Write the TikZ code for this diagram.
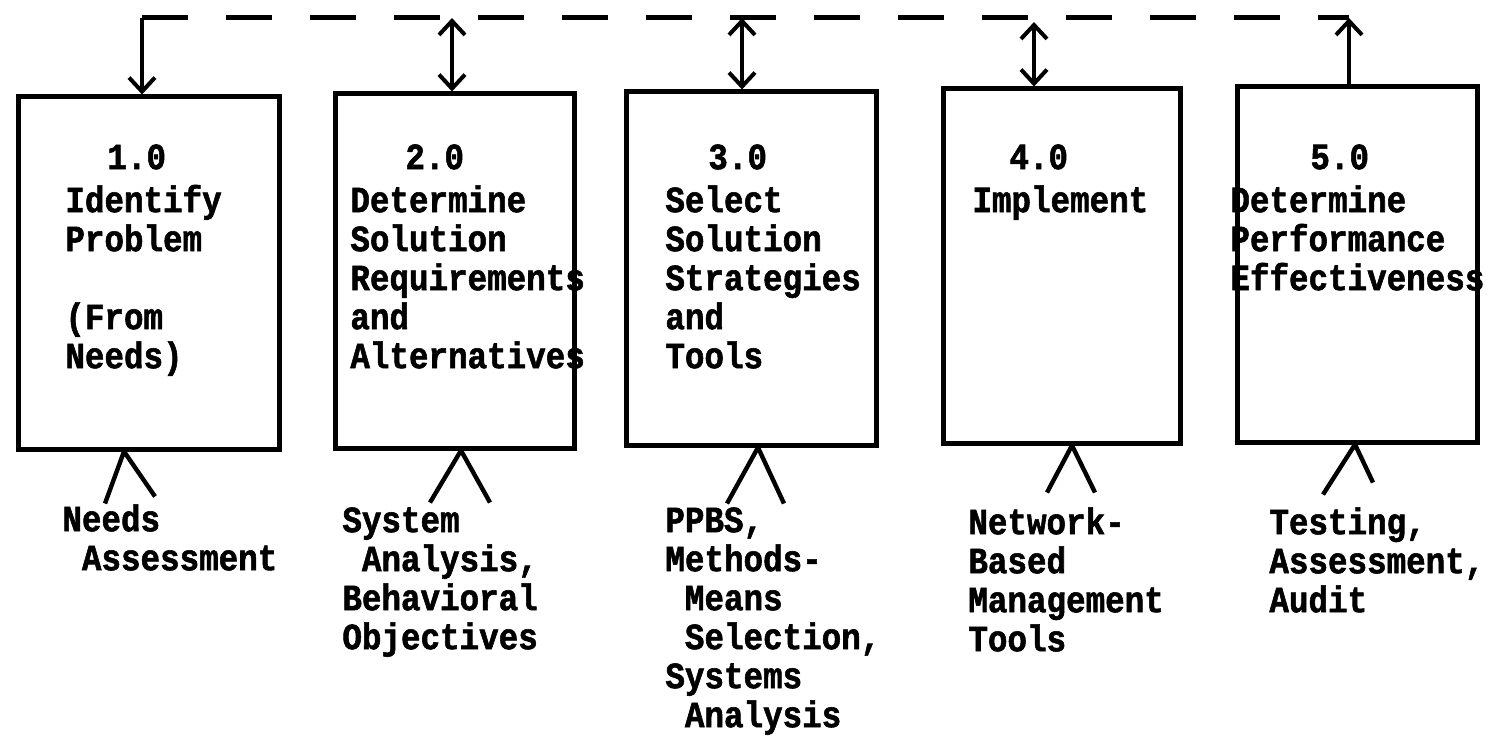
\documentclass[tikz,border=0pt]{standalone}
\usepackage{fontspec}
\usepackage{tikz}
\usetikzlibrary{arrows.meta}

\newfontfamily\typewriter[FakeStretch=0.88, FakeBold=1.5]{Liberation Mono}
\newcommand{\indt}{\hphantom{A}}

\tikzset{
  stage/.style={draw, line width=2.5pt, inner sep=0pt},
  words/.style={font=\typewriter\bfseries\fontsize{18.5}{19.5}\selectfont,
    align=left, inner sep=0pt, anchor=north west},
  notes/.style={words, font=\typewriter\bfseries\fontsize{18.5}{19.5}\selectfont},
  barb/.tip={Straight Barb[length=7pt,width=13pt]},
  arrowed/.style={line width=2pt, -barb},
  both/.style={line width=2pt, barb-barb},
  bus/.style={line width=2.5pt, dash pattern=on 23pt off 19pt},
  leg/.style={line width=2.2pt},
}

\begin{document}
\begin{tikzpicture}[x=0.5pt, y=-0.5pt]
      \useasboundingbox (0,0) rectangle (1488,738);

      % stages
      \node[stage, minimum width=130.5pt, minimum height=176pt] (b1) at (148.5,273) {};
      \node[stage, minimum width=119.5pt, minimum height=177pt] (b2) at (454.5,271) {};
      \node[stage, minimum width=125pt, minimum height=176.5pt] (b3) at (751,268.5) {};
      \node[stage, minimum width=118.5pt, minimum height=177pt] (b4) at (1061.5,266) {};
      \node[stage, minimum width=120pt, minimum height=177.5pt] (b5) at (1357,264.5) {};

      \node[words] (w1) at (65,144) {\hspace{21pt}1.0\\[2pt]Identify\\Problem\\[19.5pt](From\\Needs)};
      \node[words] (w2) at (350,144) {\hspace{27.5pt}2.0\\[2pt]Determine\\Solution\\Requirements\\and\\Alternatives};
      \node[words] (w3) at (665,144) {\hspace{21.5pt}3.0\\[2pt]Select\\Solution\\Strategies\\and\\Tools};
      \node[words] (w4) at (972,144) {\hspace{18.5pt}4.0\\[2pt]Implement};
      \node[words] (w5) at (1230,144) {\hspace{40pt}5.0\\[2pt]Determine\\Performance\\Effectiveness};

      % feedback line on top
      \coordinate (t1) at (142,18);
      \coordinate (t2) at (452,18);
      \coordinate (t3) at (742,18);
      \coordinate (t4) at (1034,22);
      \coordinate (t5) at (1349,18);

      \draw[bus] (t1) -- (t5);
      \draw[arrowed] (t1) -- (t1 |- b1.north);
      \draw[both] (t2) -- (t2 |- b2.north);
      \draw[both] (t3) -- (t3 |- b3.north);
      \draw[both] (t4) -- (t4 |- b4.north);
      \draw[arrowed] (t5 |- b5.north) -- (t5);

      % tools under each stage
      \draw[leg] (b1.south) ++(-24.5,0) coordinate (v1) -- ++(-19,52) (v1) -- ++(31,45);
      \draw[leg] (b2.south) ++(6.5,0) coordinate (v2) -- ++(-31,52) (v2) -- ++(29,52);
      \draw[leg] (b3.south) ++(7,0) coordinate (v3) -- ++(-31,56) (v3) -- ++(26,56);
      \draw[leg] (b4.south) ++(10.5,0) coordinate (v4) -- ++(-25,47) (v4) -- ++(23,47);
      \draw[leg] (b5.south) ++(-2,0) coordinate (v5) -- ++(-32,50) (v5) -- ++(18,38);

      \node[notes] (n1) at (62,504) {Needs\\\indt Assessment};
      \node[notes] (n2) at (342,507) {System\\\indt Analysis,\\Behavioral\\Objectives};
      \node[notes] (n3) at (665,507) {PPBS,\\Methods-\\\indt Means\\\indt Selection,\\Systems\\\indt Analysis};
      \node[notes] (n4) at (968,507) {Network-\\Based\\Management\\Tools};
      \node[notes] (n5) at (1269,507) {Testing,\\Assessment,\\Audit};

    \end{tikzpicture}
\end{document}
